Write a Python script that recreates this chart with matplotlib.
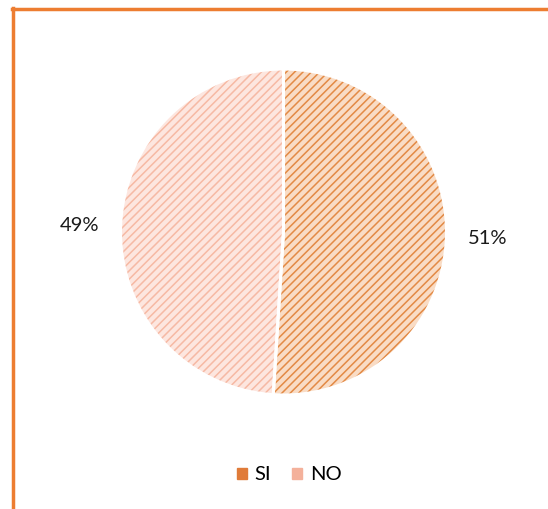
import matplotlib
matplotlib.use('Agg')
import matplotlib.pyplot as plt
from matplotlib.lines import Line2D
from matplotlib.patches import Patch

# Data
labels = ['SI', 'NO']
values = [51, 49]
fills = ['#f9dcc5', '#fde6df']
hatch_cols = ['#e38a45', '#f6b9a4']
legend_cols = ['#e07b39', '#f4b19b']

plt.rcParams['font.family'] = ['Lato', 'DejaVu Sans']
plt.rcParams['hatch.linewidth'] = 1.1

W, H = 548, 509
fig = plt.figure(figsize=(W / 100, H / 100), dpi=100)

# pie geometry in pixels
cx, cy, r = 283.5, 232, 163
ax = fig.add_axes([(cx - r) / W, (H - cy - r) / H, 2 * r / W, 2 * r / H])

wedges, texts, autotexts = ax.pie(values, startangle=90, counterclock=False,
                                  colors=fills, autopct='%1.0f%%', pctdistance=1.25,
                                  wedgeprops=dict(linewidth=0), textprops=dict(fontsize=14.5, color='#1a1a1a'))
for w, hc in zip(wedges, hatch_cols):
    w.set_hatch('////')
    w.set_edgecolor(hc)

# white separators
ax.pie(values, startangle=90, counterclock=False, colors=['none', 'none'],
       wedgeprops=dict(edgecolor='white', linewidth=2.2))
ax.set_xlim(-1, 1)
ax.set_ylim(-1, 1)
ax.set_aspect('equal')

handles = [Patch(facecolor=c, edgecolor=c, label=l) for c, l in zip(legend_cols, labels)]
fig.legend(handles=handles, loc='center', bbox_to_anchor=(289 / W, 1 - 475 / H), ncol=2,
           frameon=False, fontsize=14.5, handlelength=0.5, handleheight=0.5,
           handletextpad=0.4, columnspacing=1.0)

# orange frame (left and top)
fig.add_artist(Line2D([12.5 / W, 12.5 / W], [0, 1 - 8 / H], color='#ed7d31', lw=2.5, transform=fig.transFigure))
fig.add_artist(Line2D([11.5 / W, 1], [1 - 9 / H, 1 - 9 / H], color='#ed7d31', lw=2.5, transform=fig.transFigure))

fig.savefig('out.png', dpi=100)
